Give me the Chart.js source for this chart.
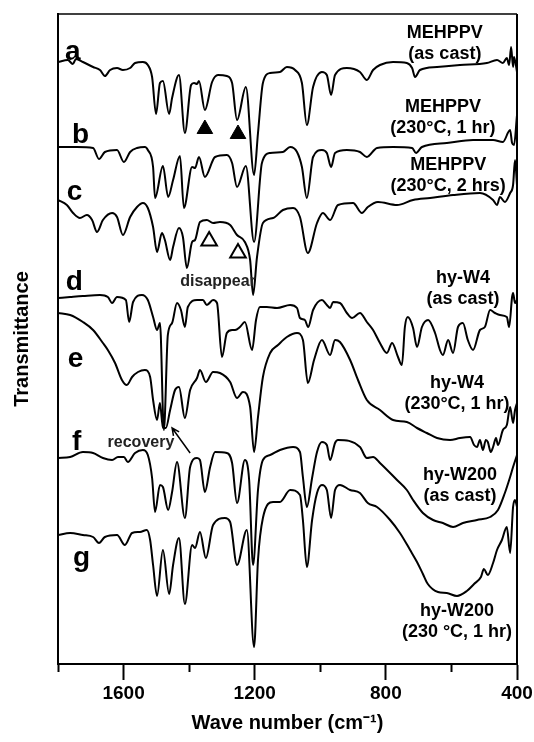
<!DOCTYPE html>
<html>
<head>
<meta charset="utf-8">
<script src="https://cdn.jsdelivr.net/npm/chart.js@4.4.0/dist/chart.umd.min.js"></script>
<style>
  body { margin: 0; background: #fff; }
  canvas { display: block; }
</style>
</head>
<body>
<canvas id="ftir" width="534" height="742"></canvas>
<script>
// FTIR spectra: [wavenumber (cm-1), transmittance (a.u., traces offset)]
const specA = [
  [1800, 60.2], [1770, 60.4], [1755, 60.0], [1745, 60.5], [1724, 60.2], [1693, 59.7], [1672, 59.4],
  [1657, 58.8], [1641, 59.4], [1620, 59.6], [1602, 59.4], [1580, 59.6], [1565, 60.1], [1541, 60.2],
  [1526, 59.9], [1513, 58.7], [1501, 55.0], [1489, 58.1], [1480, 58.3], [1461, 55.0], [1452, 56.6],
  [1431, 58.9], [1413, 53.1], [1394, 57.9], [1385, 58.1], [1376, 58.0], [1370, 58.3], [1352, 55.4],
  [1330, 58.2], [1312, 58.9], [1285, 58.8], [1269, 58.1], [1254, 54.4], [1227, 57.7], [1202, 48.9],
  [1190, 53.1], [1175, 58.1], [1153, 59.1], [1123, 59.2], [1102, 59.7], [1077, 59.4], [1056, 58.1],
  [1041, 53.9], [1022, 57.7], [995, 59.2], [980, 58.9], [967, 56.9], [955, 58.9], [919, 59.6],
  [879, 59.2], [858, 58.4], [839, 59.4], [818, 59.9], [778, 60.2], [736, 60.1], [720, 59.6],
  [711, 58.7], [696, 59.4], [644, 59.7], [574, 59.9], [492, 60.1], [461, 60.4], [443, 60.1],
  [431, 60.6], [424, 59.9], [418, 61.7], [412, 59.7], [409, 60.7], [400, 59.2]
];
const specB = [
  [1800, 51.7], [1742, 51.7], [1693, 51.6], [1675, 50.5], [1657, 51.2], [1620, 51.4], [1599, 50.2],
  [1580, 51.2], [1559, 51.6], [1535, 51.7], [1526, 51.4], [1510, 49.7], [1504, 46.6], [1480, 49.8],
  [1464, 46.7], [1449, 48.4], [1428, 50.8], [1416, 45.6], [1391, 49.7], [1382, 49.6], [1370, 50.7],
  [1352, 48.7], [1321, 50.7], [1285, 50.9], [1269, 50.1], [1254, 47.7], [1227, 49.8], [1202, 42.2],
  [1178, 50.1], [1153, 51.1], [1114, 51.2], [1092, 51.7], [1071, 51.2], [1056, 49.7], [1041, 46.6],
  [1022, 50.7], [995, 51.4], [980, 51.1], [967, 49.7], [955, 51.1], [919, 51.4], [879, 51.2],
  [858, 50.7], [827, 51.6], [778, 51.7], [720, 51.6], [708, 51.1], [690, 51.7], [614, 52.1],
  [534, 52.4], [473, 52.4], [443, 52.2], [421, 53.4], [415, 52.1], [409, 51.9], [400, 54.9]
];
const specC = [
  [1800, 46.4], [1773, 45.9], [1754, 45.1], [1733, 44.6], [1712, 44.9], [1696, 44.4], [1681, 43.2],
  [1663, 44.4], [1635, 45.1], [1620, 44.7], [1602, 42.9], [1580, 44.7], [1559, 45.7], [1541, 46.1],
  [1526, 45.6], [1510, 43.7], [1498, 41.2], [1483, 43.1], [1474, 42.4], [1458, 40.4], [1449, 41.7],
  [1431, 43.6], [1419, 42.7], [1407, 39.6], [1391, 42.2], [1382, 42.4], [1367, 44.2], [1346, 44.4],
  [1327, 44.1], [1306, 44.2], [1275, 43.9], [1254, 42.9], [1230, 42.2], [1214, 40.4], [1205, 36.9],
  [1193, 40.7], [1175, 44.1], [1144, 44.6], [1114, 45.4], [1083, 45.6], [1062, 44.7], [1038, 41.1],
  [1010, 44.1], [992, 45.1], [970, 44.4], [946, 45.9], [900, 46.1], [873, 45.1], [855, 45.7],
  [824, 46.2], [766, 45.9], [717, 46.4], [665, 46.6], [595, 46.9], [513, 47.1], [473, 46.4],
  [461, 45.9], [452, 46.7], [437, 46.2], [421, 47.1], [412, 47.9], [406, 50.4], [400, 47.9]
];
const specD = [
  [1800, 36.6], [1763, 36.7], [1724, 36.8], [1672, 36.9], [1648, 36.7], [1635, 36.1], [1620, 36.7],
  [1593, 36.4], [1583, 34.2], [1571, 36.2], [1544, 36.9], [1526, 36.4], [1510, 34.7], [1498, 33.4],
  [1489, 34.1], [1477, 23.4], [1465, 32.9], [1452, 34.1], [1437, 36.1], [1425, 35.4], [1413, 33.7],
  [1404, 35.7], [1376, 36.4], [1358, 36.4], [1346, 35.9], [1327, 36.4], [1315, 36.1], [1300, 30.7],
  [1285, 33.1], [1269, 33.4], [1260, 33.4], [1245, 33.7], [1230, 34.2], [1208, 31.4], [1196, 34.4],
  [1184, 35.7], [1163, 35.7], [1132, 35.6], [1092, 35.9], [1071, 35.6], [1062, 34.6], [1047, 34.4],
  [1037, 33.7], [1022, 35.4], [995, 36.4], [980, 35.9], [970, 35.6], [961, 36.2], [940, 36.1],
  [919, 35.1], [903, 34.6], [879, 35.1], [858, 34.2], [839, 33.4], [818, 32.1], [797, 31.1],
  [781, 32.1], [763, 30.7], [751, 29.9], [742, 33.7], [733, 34.7], [717, 33.6], [705, 31.7],
  [690, 33.7], [671, 34.4], [650, 33.1], [635, 31.4], [626, 30.9], [610, 32.4], [595, 31.1],
  [580, 33.7], [565, 34.1], [550, 32.4], [534, 31.4], [513, 33.4], [498, 33.7], [482, 35.4],
  [467, 35.1], [452, 34.9], [431, 34.7], [424, 33.7], [415, 36.7], [412, 37.1], [406, 36.1], [400, 36.4]
];
const specE = [
  [1800, 35.1], [1763, 34.9], [1724, 34.2], [1693, 33.4], [1663, 32.1], [1648, 31.4], [1626, 30.1],
  [1605, 28.4], [1590, 27.9], [1574, 28.7], [1556, 29.2], [1535, 29.4], [1519, 28.7], [1510, 26.4],
  [1498, 24.4], [1489, 26.1], [1480, 23.6], [1471, 23.6], [1458, 25.4], [1443, 27.4], [1431, 27.7],
  [1413, 24.6], [1397, 27.4], [1376, 28.6], [1367, 29.4], [1349, 28.2], [1327, 29.2], [1306, 29.1],
  [1275, 28.2], [1254, 26.6], [1236, 27.2], [1214, 25.7], [1202, 21.2], [1190, 24.7], [1175, 28.7],
  [1153, 31.1], [1129, 31.9], [1102, 32.7], [1071, 33.1], [1053, 32.4], [1038, 28.1], [1019, 30.4],
  [995, 32.4], [970, 30.9], [955, 32.4], [940, 32.2], [909, 30.4], [885, 28.4], [858, 26.4],
  [818, 25.4], [778, 24.4], [736, 24.2], [705, 23.6], [675, 23.1], [644, 22.6], [604, 22.4],
  [574, 22.6], [543, 22.7], [531, 21.9], [522, 21.7], [513, 22.4], [504, 21.4], [495, 22.4],
  [489, 22.2], [480, 21.2], [473, 21.7], [464, 22.6], [458, 21.9], [443, 23.4], [431, 23.9],
  [421, 25.7], [412, 24.1], [406, 25.4], [400, 26.1]
];
const specF = [
  [1800, 20.6], [1763, 20.7], [1724, 21.2], [1693, 21.1], [1663, 20.6], [1635, 20.4], [1617, 20.7],
  [1599, 20.7], [1587, 20.2], [1565, 21.1], [1541, 21.4], [1526, 20.9], [1513, 18.6], [1504, 15.2],
  [1489, 17.9], [1480, 17.7], [1464, 15.4], [1452, 17.2], [1437, 20.2], [1413, 14.6], [1397, 19.7],
  [1376, 20.6], [1367, 20.4], [1352, 17.2], [1336, 19.7], [1321, 21.2], [1285, 21.1], [1269, 20.1],
  [1254, 16.1], [1230, 20.4], [1217, 18.4], [1205, 9.9], [1190, 17.4], [1175, 20.4], [1153, 20.9],
  [1123, 21.4], [1083, 21.7], [1062, 21.2], [1053, 18.7], [1041, 15.7], [1025, 18.6], [1010, 21.2],
  [995, 22.2], [980, 21.9], [970, 20.4], [955, 22.1], [946, 22.4], [879, 21.7], [858, 20.6],
  [839, 20.7], [818, 20.1], [766, 18.4], [736, 17.4], [717, 16.4], [687, 15.1], [656, 14.4],
  [626, 14.1], [595, 13.7], [565, 14.1], [522, 14.4], [482, 14.7], [458, 15.4], [437, 17.1],
  [421, 18.7], [412, 19.7], [400, 20.9]
];
const specG = [
  [1800, 12.9], [1763, 13.1], [1724, 12.9], [1693, 12.7], [1675, 12.1], [1657, 12.7], [1620, 12.9],
  [1596, 11.9], [1574, 13.1], [1550, 13.2], [1529, 13.4], [1519, 12.4], [1510, 9.9], [1498, 6.8],
  [1480, 11.4], [1461, 7.0], [1449, 9.9], [1431, 12.6], [1413, 6.0], [1391, 11.9], [1382, 11.6],
  [1367, 13.2], [1349, 10.6], [1327, 13.9], [1291, 14.6], [1275, 14.2], [1254, 9.9], [1224, 13.4],
  [1202, 1.7], [1190, 10.4], [1175, 14.6], [1144, 16.2], [1123, 16.2], [1092, 17.4], [1062, 16.9],
  [1053, 14.4], [1041, 9.7], [1025, 14.4], [1010, 17.1], [995, 17.9], [980, 17.4], [967, 14.6],
  [955, 17.4], [940, 17.9], [909, 17.4], [879, 17.1], [855, 16.1], [827, 15.7], [787, 14.4],
  [757, 13.1], [726, 11.4], [705, 10.2], [687, 9.0], [672, 8.0], [641, 7.2], [614, 7.1],
  [583, 6.8], [553, 7.3], [531, 8.0], [510, 8.7], [501, 9.5], [489, 8.9], [473, 10.1],
  [461, 11.4], [446, 12.4], [431, 13.7], [421, 11.1], [412, 15.7], [406, 16.4], [400, 15.7]
];

// band markers: filled = present in (b), open = gone in (c)
const bandsPresent = [[1352, 53.5], [1251, 53.0]];
const bandsGone = [[1339, 42.3], [1251, 41.1]];

const majorTicks = [1600, 1200, 800, 400];
const minorTicks = [1800, 1400, 1000, 600];

const traceLetters = ['a', 'b', 'c', 'd', 'e', 'f', 'g'];
const sampleNames = [
  ['MEHPPV', '(as cast)'],
  ['MEHPPV', '(230°C, 1 hr)'],
  ['MEHPPV', '(230°C, 2 hrs)'],
  ['hy-W4', '(as cast)'],
  ['hy-W4', '(230°C, 1 hr)'],
  ['hy-W200', '(as cast)'],
  ['hy-W200', '(230 °C, 1 hr)']
];

// where the annotations sit, in axis units
const letterAt = [[1779, 60.4], [1757, 52.1], [1773, 46.4], [1776, 37.4], [1770, 29.7], [1757, 21.4], [1754, 9.8]];
const nameAt = [[620, 63.1], [626, 55.7], [610, 49.9], [565, 38.6], [583, 28.1], [574, 18.9], [583, 5.3]];

const FONT = '"Liberation Sans", Arial, Helvetica, sans-serif';
const spectra = [specA, specB, specC, specD, specE, specF, specG];

const annotate = {
  id: 'annotate',
  afterDatasetsDraw(chart) {
    const {ctx, chartArea: area, scales: {x, y}} = chart;
    ctx.save();
    // top and right sides of the frame
    ctx.strokeStyle = '#000';
    ctx.lineWidth = 1.5;
    ctx.beginPath();
    ctx.moveTo(area.left, area.top);
    ctx.lineTo(area.right, area.top);
    ctx.stroke();
    ctx.lineWidth = 2;
    ctx.beginPath();
    ctx.moveTo(area.right, area.top);
    ctx.lineTo(area.right, area.bottom);
    ctx.stroke();

    ctx.fillStyle = '#000';
    ctx.font = 'bold 28px ' + FONT;
    ctx.textAlign = 'left';
    ctx.textBaseline = 'alphabetic';
    traceLetters.forEach((t, i) => {
      ctx.fillText(t, x.getPixelForValue(letterAt[i][0]), y.getPixelForValue(letterAt[i][1]));
    });

    ctx.font = 'bold 18px ' + FONT;
    ctx.textAlign = 'center';
    ctx.textBaseline = 'middle';
    sampleNames.forEach((lines, i) => {
      const px = x.getPixelForValue(nameAt[i][0]);
      const py = y.getPixelForValue(nameAt[i][1]);
      lines.forEach((s, j) => ctx.fillText(s, px, py + j * 21));
    });

    ctx.font = 'bold 16px ' + FONT;
    ctx.fillStyle = '#222';
    ctx.fillText('disappear', x.getPixelForValue(1312), y.getPixelForValue(38.2));
    ctx.fillText('recovery', x.getPixelForValue(1547), y.getPixelForValue(22.1));

    // arrow pointing at the recovered band
    const x1 = x.getPixelForValue(1397), y1 = y.getPixelForValue(21.1);
    const x2 = x.getPixelForValue(1452), y2 = y.getPixelForValue(23.6);
    const ang = Math.atan2(y2 - y1, x2 - x1);
    ctx.strokeStyle = '#000';
    ctx.lineWidth = 1.5;
    ctx.beginPath();
    ctx.moveTo(x1, y1);
    ctx.lineTo(x2, y2);
    ctx.moveTo(x2 - 8 * Math.cos(ang - 0.45), y2 - 8 * Math.sin(ang - 0.45));
    ctx.lineTo(x2, y2);
    ctx.lineTo(x2 - 8 * Math.cos(ang + 0.45), y2 - 8 * Math.sin(ang + 0.45));
    ctx.stroke();
    ctx.restore();
  }
};

const toPoints = s => s.map(([x, y]) => ({x, y}));

new Chart(document.getElementById('ftir'), {
  type: 'line',
  data: {
    datasets: [
      ...spectra.map(s => ({
        data: toPoints(s),
        borderColor: '#000',
        borderWidth: 2,
        pointRadius: 0,
        fill: false,
        cubicInterpolationMode: 'monotone'
      })),
      {
        type: 'scatter',
        data: toPoints(bandsPresent),
        pointStyle: 'triangle',
        pointRadius: 9,
        backgroundColor: '#000',
        borderColor: '#000',
        borderWidth: 1
      },
      {
        type: 'scatter',
        data: toPoints(bandsGone),
        pointStyle: 'triangle',
        pointRadius: 9,
        backgroundColor: '#fff',
        borderColor: '#000',
        borderWidth: 2
      }
    ]
  },
  options: {
    responsive: false,
    animation: false,
    devicePixelRatio: 1,
    layout: {padding: {top: 14, right: 17, left: 0, bottom: 0}},
    plugins: {legend: {display: false}, tooltip: {enabled: false}},
    scales: {
      x: {
        type: 'linear',
        position: 'bottom',
        reverse: true,
        min: 400,
        max: 1800,
        weight: 1,
        afterBuildTicks: s => { s.ticks = majorTicks.map(v => ({value: v})); },
        afterFit: s => { s.height = 78; s.paddingLeft = 0; s.paddingRight = 0; },
        grid: {drawOnChartArea: false, tickLength: 16, tickWidth: 2, tickColor: '#000'},
        border: {color: '#000', width: 2},
        ticks: {
          color: '#000',
          padding: 2,
          maxRotation: 0,
          autoSkip: false,
          font: {family: FONT, size: 19, weight: 'bold'},
          callback: v => String(v)
        },
        title: {
          display: true,
          text: 'Wave number (cm⁻¹)',
          color: '#000',
          font: {family: FONT, size: 20, weight: 'bold'},
          padding: {top: 0, bottom: 7}
        }
      },
      xMinor: {
        type: 'linear',
        position: 'bottom',
        reverse: true,
        min: 400,
        max: 1800,
        weight: 0,
        afterBuildTicks: s => { s.ticks = minorTicks.map(v => ({value: v})); },
        afterFit: s => { s.height = 0; s.paddingLeft = 0; s.paddingRight = 0; },
        grid: {drawOnChartArea: false, tickLength: 8, tickWidth: 2, tickColor: '#000'},
        border: {display: false},
        ticks: {display: false}
      },
      y: {
        min: 0,
        max: 65,
        afterFit: s => { s.width = 58; },
        grid: {display: false},
        border: {color: '#000', width: 2},
        ticks: {display: false},
        title: {
          display: true,
          text: 'Transmittance',
          color: '#000',
          font: {family: FONT, size: 20, weight: 'bold'},
          padding: {top: 10, bottom: 0}
        }
      }
    }
  },
  plugins: [annotate]
});
</script>
</body>
</html>
